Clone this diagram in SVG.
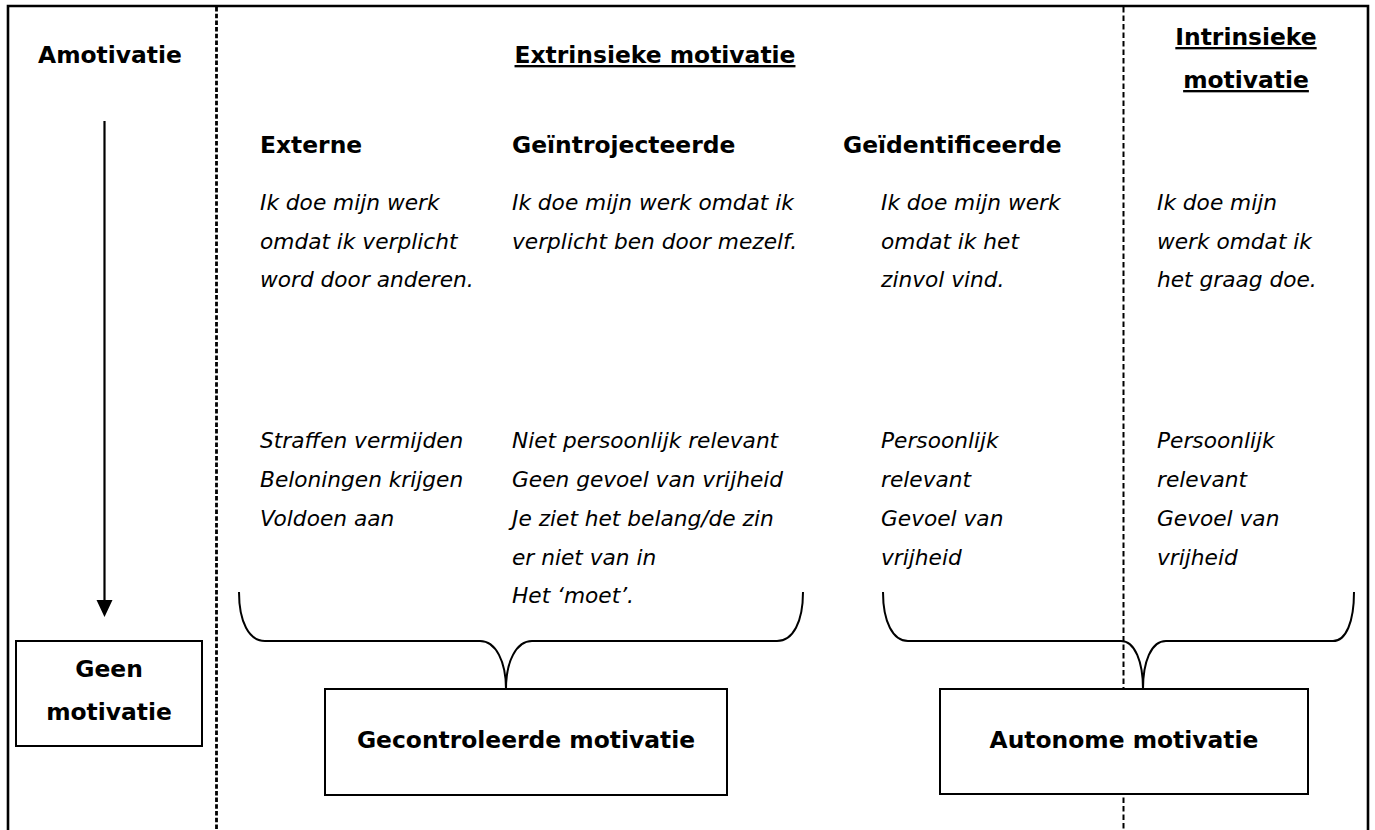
<svg xmlns="http://www.w3.org/2000/svg" width="1375" height="830" viewBox="0 0 1375 830">
  <style>
    .b { font-family: "DejaVu Sans", Verdana, sans-serif; font-weight: bold; font-size: 23.4px; fill: #000; }
    .i { font-family: "DejaVu Sans", Verdana, sans-serif; font-style: italic; font-size: 21.7px; fill: #000; }
    .u { text-decoration: underline; }
    .c { text-anchor: middle; }
    .box { fill: #fff; stroke: #000; stroke-width: 2; }
    .brace { fill: none; stroke: #000; stroke-width: 2; }
  </style>

  <rect x="0" y="0" width="1375" height="830" fill="#fff"/>

  <!-- frame and column separators -->
  <g id="frame">
    <path d="M8,835 V6 H1368 V835" fill="none" stroke="#000" stroke-width="2.6"/>
    <line x1="216.5" y1="7" x2="216.5" y2="830" stroke="#000" stroke-width="2.8" stroke-dasharray="4.5 2.2"/>
    <line x1="1123.5" y1="7" x2="1123.5" y2="830" stroke="#000" stroke-width="2" stroke-dasharray="5.5 3"/>
  </g>

  <!-- column headings -->
  <g id="amotivatie">
    <text class="b c" x="110" y="63">Amotivatie</text>
  </g>
  <g id="extrinsiek">
    <text class="b c u" x="655" y="63">Extrinsieke motivatie</text>
  </g>
  <g id="intrinsiek">
    <text class="b c u" x="1246" y="45">Intrinsieke</text>
    <text class="b c u" x="1246" y="88">motivatie</text>
  </g>

  <!-- regulation types -->
  <g id="externe">
    <text class="b" x="260" y="153">Externe</text>
    <text class="i" x="260" y="210">Ik doe mijn werk</text>
    <text class="i" x="260" y="248.5">omdat ik verplicht</text>
    <text class="i" x="260" y="287">word door anderen.</text>
    <text class="i" x="260" y="448">Straffen vermijden</text>
    <text class="i" x="260" y="487">Beloningen krijgen</text>
    <text class="i" x="260" y="526">Voldoen aan</text>
  </g>
  <g id="geintrojecteerde">
    <text class="b" x="512" y="153">Geïntrojecteerde</text>
    <text class="i" x="512" y="210">Ik doe mijn werk omdat ik</text>
    <text class="i" x="512" y="248.5">verplicht ben door mezelf.</text>
    <text class="i" x="512" y="448">Niet persoonlijk relevant</text>
    <text class="i" x="512" y="487">Geen gevoel van vrijheid</text>
    <text class="i" x="512" y="526">Je ziet het belang/de zin</text>
    <text class="i" x="512" y="564.5">er niet van in</text>
    <text class="i" x="512" y="603">Het ‘moet’.</text>
  </g>
  <g id="geidentificeerde">
    <text class="b" x="843" y="153">Geïdentificeerde</text>
    <text class="i" x="881" y="210">Ik doe mijn werk</text>
    <text class="i" x="881" y="248.5">omdat ik het</text>
    <text class="i" x="881" y="287">zinvol vind.</text>
    <text class="i" x="881" y="448">Persoonlijk</text>
    <text class="i" x="881" y="487">relevant</text>
    <text class="i" x="881" y="526">Gevoel van</text>
    <text class="i" x="881" y="564.5">vrijheid</text>
  </g>
  <g id="intrinsieke-regulatie">
    <text class="i" x="1157" y="210">Ik doe mijn</text>
    <text class="i" x="1157" y="248.5">werk omdat ik</text>
    <text class="i" x="1157" y="287">het graag doe.</text>
    <text class="i" x="1157" y="448">Persoonlijk</text>
    <text class="i" x="1157" y="487">relevant</text>
    <text class="i" x="1157" y="526">Gevoel van</text>
    <text class="i" x="1157" y="564.5">vrijheid</text>
  </g>

  <!-- connectors: arrow and braces -->
  <g id="connectors">
    <line x1="104.5" y1="121" x2="104.5" y2="601" stroke="#000" stroke-width="2.2"/>
    <path d="M96.5,600 L112.5,600 L104.5,617 Z" fill="#000"/>
    <path class="brace" d="M239,592 C239,622 249,641 265,641 L480,641 C496,641 506,662 506,689 C506,662 516,641 532,641 L777,641 C793,641 803,622 803,592"/>
    <path class="brace" d="M883,592 C883,622 893,641 908,641 L1121,641 C1135,641 1143,662 1143,689 C1143,662 1151,641 1166,641 L1333,641 C1346,641 1354,622 1354,592"/>
  </g>

  <!-- outcome boxes -->
  <g id="geen-motivatie">
    <rect class="box" x="16" y="641" width="186" height="105"/>
    <text class="b c" x="109" y="677">Geen</text>
    <text class="b c" x="109" y="720">motivatie</text>
  </g>
  <g id="gecontroleerde-motivatie">
    <rect class="box" x="325" y="689" width="402" height="106"/>
    <text class="b c" x="526" y="748">Gecontroleerde motivatie</text>
  </g>
  <g id="autonome-motivatie">
    <rect class="box" x="940" y="689" width="368" height="105"/>
    <text class="b c" x="1124" y="748">Autonome motivatie</text>
  </g>
</svg>
